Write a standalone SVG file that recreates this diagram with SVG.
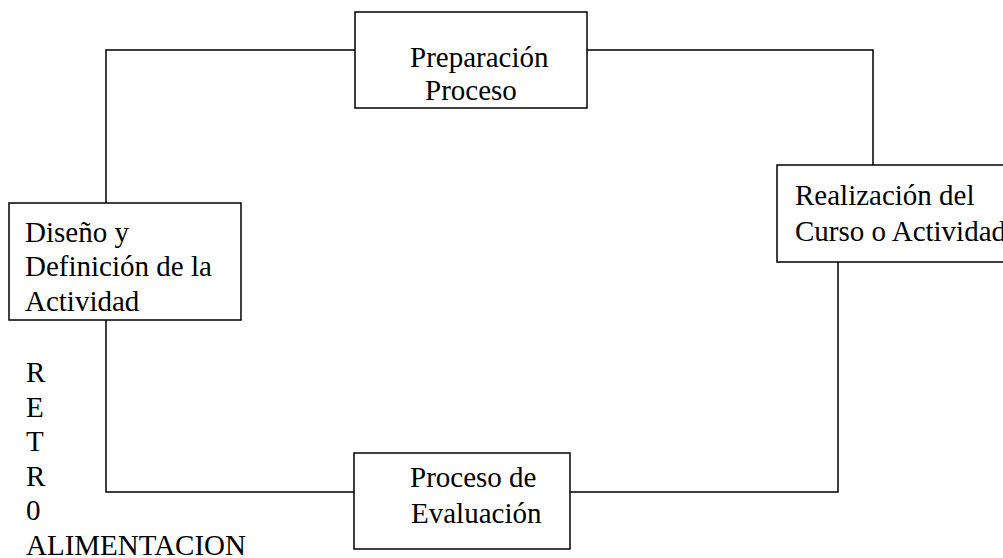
<svg xmlns="http://www.w3.org/2000/svg" width="1003" height="558" viewBox="0 0 1003 558">
<style>
.box{fill:#fff;stroke:#000;stroke-width:1.5}
.ln{fill:none;stroke:#000;stroke-width:1.5}
</style>
<rect width="1003" height="558" fill="#fff"/>
<g id="connectors">
<polyline class="ln" points="355,50 106,50 106,203"/>
<polyline class="ln" points="587,50 873,50 873,165"/>
<polyline class="ln" points="838,262 838,492 570,492"/>
<polyline class="ln" points="354,492 106,492 106,320"/>
</g>
<g font-family="Liberation Serif, serif" font-size="29" fill="#000">
<g id="preparacion">
<rect class="box" x="355" y="12" width="232" height="96"/>
<text x="410" y="67">Preparación</text>
<text x="425" y="100">Proceso</text>
</g>
<g id="realizacion">
<rect class="box" x="777" y="165" width="240" height="97"/>
<text x="795" y="205">Realización del</text>
<text x="795" y="241">Curso o Actividad</text>
</g>
<g id="evaluacion">
<rect class="box" x="354" y="453" width="216" height="96"/>
<text x="410" y="487">Proceso de</text>
<text x="411" y="523">Evaluación</text>
</g>
<g id="diseno">
<rect class="box" x="9" y="203" width="232" height="117"/>
<text x="25" y="242">Diseño y</text>
<text x="25" y="276">Definición de la</text>
<text x="25" y="311">Actividad</text>
</g>
<g id="retro">
<text x="26" y="382">R</text>
<text x="26" y="417">E</text>
<text x="26" y="451">T</text>
<text x="26" y="486">R</text>
<text x="26" y="520">0</text>
<text x="26" y="555">ALIMENTACION</text>
</g>
</g>
</svg>
